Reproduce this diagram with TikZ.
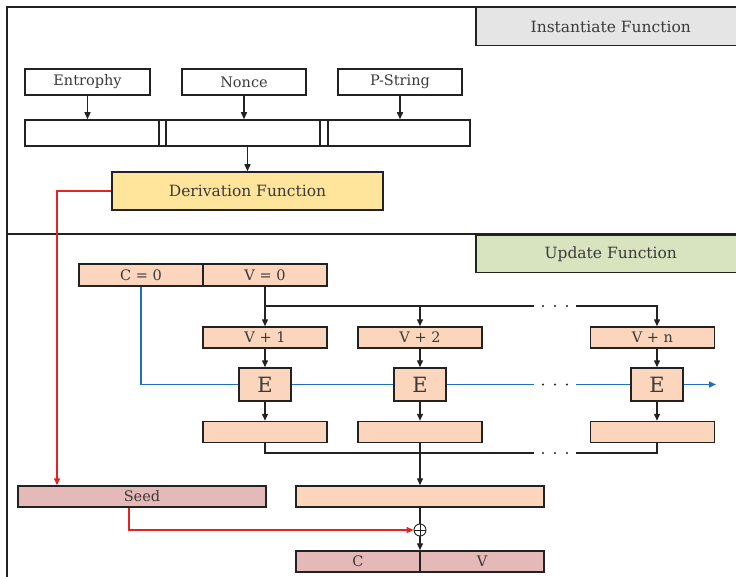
\documentclass[tikz,border=0pt]{standalone}
\usepackage{fontspec}
\setmainfont{DejaVu Serif}
\usetikzlibrary{arrows.meta}
\definecolor{peach}{HTML}{FBD6BC}
\definecolor{rose}{HTML}{E5B9B8}
\definecolor{derivc}{HTML}{FFE59C}
\definecolor{instg}{HTML}{E5E5E5}
\definecolor{updg}{HTML}{D8E3C0}
\definecolor{blueline}{HTML}{1F6FC1}
\definecolor{redline}{HTML}{E52222}
\definecolor{txt}{HTML}{3A3A3A}
\definecolor{edge}{HTML}{222222}
\begin{document}
\begin{tikzpicture}[x=1pt,y=-1pt,
  box/.style={draw=edge, line width=1.5pt, inner sep=0pt, text=txt, font=\fontsize{14.5}{15}\selectfont},
  lbl/.style={box, font=\fontsize{15.5}{16}\selectfont},
  pbox/.style={box, fill=peach, minimum width=124pt, minimum height=21pt},
  ebox/.style={box, fill=peach, minimum width=52pt, minimum height=33pt, font=\fontsize{21}{21}\selectfont},
  conn/.style={draw=edge, line width=1.4pt},
  arr/.style={conn, -{Triangle[length=7pt,width=6pt]}},
  bconn/.style={draw=blueline, line width=1.5pt},
  rarr/.style={draw=redline, line width=1.5pt, -{Triangle[length=7pt,width=6pt]}},
  dotsn/.style={inner sep=0pt, minimum width=42pt, minimum height=6pt},
  dotmark/.style={circle, fill=edge, inner sep=0pt, minimum size=2.4pt},
]
\clip (0,0) rectangle (736,577);
% frame
\draw[edge, line width=1.8pt] (7,600) -- (7,7) -- (760,7);
\draw[edge, line width=1.8pt] (7,234) -- (760,234);

% ---- Instantiate
\node[lbl, fill=instg, minimum width=270pt, minimum height=38pt, anchor=north west] (inst) at (475,7) {Instantiate Function};
\node[box, minimum width=125pt, minimum height=26pt] (ent) at (87.5,82) {Entrophy};
\node[box, minimum width=124pt, minimum height=26pt] (non) at (244,82) {Nonce};
\node[box, minimum width=124pt, minimum height=26pt] (pst) at (400,82) {P-String};
\node[box, minimum width=445pt, minimum height=26pt] (bar) at (247.5,133) {};
\foreach \d in {135,142,296,304}
  \draw[edge, line width=1.6pt] ([xshift=\d pt]bar.north west) -- ([xshift=\d pt]bar.south west);
\draw[arr] (ent.south) -- (ent.south |- bar.north);
\draw[arr] (non.south) -- (non.south |- bar.north);
\draw[arr] (pst.south) -- (pst.south |- bar.north);
\node[lbl, fill=derivc, minimum width=271pt, minimum height=38pt] (der) at (247.5,191) {Derivation Function};
\draw[arr] (bar.south) -- (der.north);

% ---- Update
\node[lbl, fill=updg, minimum width=270pt, minimum height=37pt, anchor=north west] (upd) at (475,235) {Update Function};
\node[pbox, minimum height=22pt] (c0) at (141,275) {C = 0};
\node[pbox, minimum height=22pt] (v0) at (265,275) {V = 0};

\foreach \n/\y in {d1/306, d2/384.5, d3/453} {
  \node[dotsn] (\n) at (555,\y) {};
  \foreach \dx in {-12,0,12}
    \node[dotmark] at ([xshift=\dx pt]\n.center) {};
}

\node[pbox] (v1) at (265,337.5) {V + 1};
\node[pbox] (v2) at (420,337.5) {V + 2};
\node[pbox] (vn) at (652.5,337.5) {V + n};
\node[ebox] (e1) at (265,384.5) {E};
\node[ebox] (e2) at (420,384.5) {E};
\node[ebox] (e3) at (657,384.5) {E};
\node[pbox] (o1) at (265,432) {};
\node[pbox] (o2) at (420,432) {};
\node[pbox] (o3) at (652.5,432) {};

\draw[conn] (v0.south) |- (d1.west);
\draw[arr] (v0.south |- d1) -- (v1.north);
\draw[arr] (v2.north |- d1) -- (v2.north);
\draw[arr] (d1.east) -| (vn.north -| e3);
\draw[arr] (v1.south) -- (e1.north);
\draw[arr] (v2.south) -- (e2.north);
\draw[arr] (vn.south -| e3) -- (e3.north);
\draw[arr] (e1.south) -- (o1.north);
\draw[arr] (e2.south) -- (o2.north);
\draw[arr] (e3.south) -- (o3.north -| e3);

\draw[bconn] (c0.south) |- (e1.west);
\draw[bconn] (e1.east) -- (e2.west);
\draw[bconn] (e2.east) -- (d2.west);
\draw[bconn] (d2.east) -- (e3.west);
\coordinate (bend) at (716,384.5);
\draw[bconn, -{Triangle[length=7pt,width=6pt]}] (e3.east) -- (bend);

\draw[conn] (o1.south) |- (d3.west);
\draw[conn] (d3.east) -| (o3.south -| e3);

\node[pbox, minimum width=248pt, fill=peach] (big) at (420,496.5) {};
\draw[arr] (o2.south) -- (big.north);
\node[pbox, minimum width=248pt, fill=rose] (seed) at (142,496.5) {Seed};

\node[circle, draw=edge, line width=0.9pt, minimum size=12pt, inner sep=0pt] (xor) at (420,530) {};
\draw[edge, line width=0.9pt] (xor.north) -- (xor.south) (xor.west) -- (xor.east);
\draw[conn] (big.south) -- (xor.north);

\node[pbox, fill=rose] (cc) at (358,561.5) {C};
\node[pbox, fill=rose] (vv) at (482,561.5) {V};
\draw[arr] (xor.south) -- (xor.south |- cc.north);

\draw[rarr] ([xshift=-13pt]seed.south) |- (xor.west);
\draw[rarr] (der.west) -| ([xshift=-85pt]seed.north);
\end{tikzpicture}
\end{document}
